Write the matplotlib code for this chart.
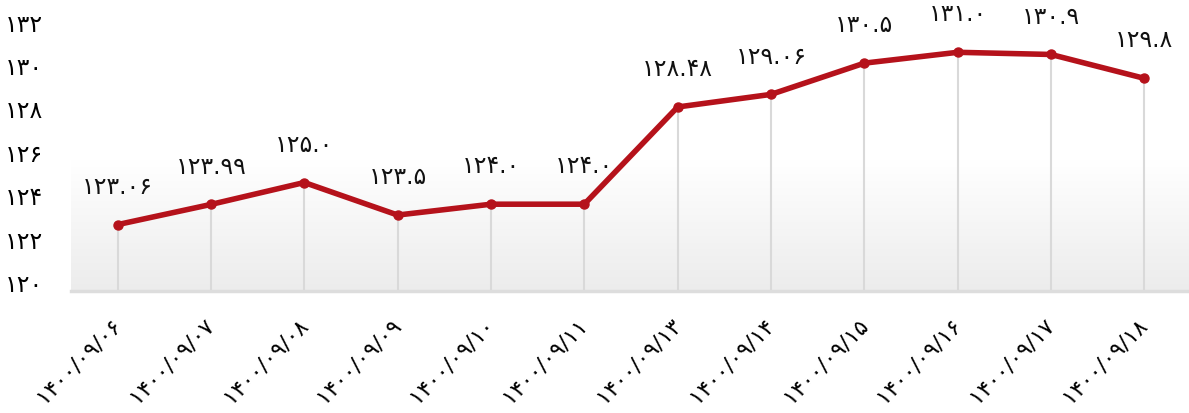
import numpy as np
import matplotlib
matplotlib.use('Agg')
import matplotlib.pyplot as plt

dates = ['1400/09/06', '1400/09/07', '1400/09/08', '1400/09/09', '1400/09/10', '1400/09/11',
         '1400/09/13', '1400/09/14', '1400/09/15', '1400/09/16', '1400/09/17', '1400/09/18']
values = [123.06, 123.99, 125.0, 123.5, 124.0, 124.0, 128.48, 129.06, 130.5, 131.0, 130.9, 129.8]
yticks = [120, 122, 124, 126, 128, 130, 132]

FA = str.maketrans('0123456789', '۰۱۲۳۴۵۶۷۸۹')


def fa(s):
    return str(s).translate(FA)


plt.rcParams['font.family'] = ['DejaVu Sans']

fig = plt.figure(figsize=(11.89, 4.14), dpi=100)
W, H = 1189, 414
ax = fig.add_axes([71 / W, 1 - 292 / H, 1 - 71 / W, (292 - 31.6) / H])

x = np.arange(len(values))
ax.set_xlim(-0.5, (1189 - 118) / 93.3)
ax.set_ylim(120, 132)

# background gradient
grad = np.linspace(0, 1, 256).reshape(-1, 1)
cmap = matplotlib.colors.LinearSegmentedColormap.from_list('g', ['#ffffff', '#ffffff', '#ececec'])
ax.imshow(grad, extent=[0, 1, 0, 1], transform=ax.transAxes, aspect='auto',
          cmap=cmap, vmin=0, vmax=1, origin='upper', zorder=0)

# drop lines
ax.vlines(x, 120, values, color='#d9d9d9', lw=1.5, zorder=1)

ax.plot(x, values, color='#b5121b', lw=4, marker='o', ms=6.5, zorder=3,
        solid_capstyle='round')

for xi, v in zip(x, values):
    ax.annotate(fa(v), (xi, v), xytext=(0, 28), textcoords='offset points',
                ha='center', va='center', fontsize=17, color='#111111')

for s in ax.spines.values():
    s.set_visible(False)
ax.axhline(120, color='#dddddd', lw=2.5, zorder=2, clip_on=False)

ax.set_yticks(yticks)
ax.set_yticklabels([fa(t) for t in yticks], fontsize=17)
ax.tick_params(axis='y', length=0, pad=20)
for lab in ax.get_yticklabels():
    lab.set_verticalalignment('baseline')

ax.set_xticks(x)
ax.set_xticklabels([fa(d) for d in dates], rotation=45, ha='right', va='center',
                   rotation_mode='anchor', fontsize=16)
ax.tick_params(axis='x', length=0, pad=21)

fig.savefig('out.png', dpi=100)
